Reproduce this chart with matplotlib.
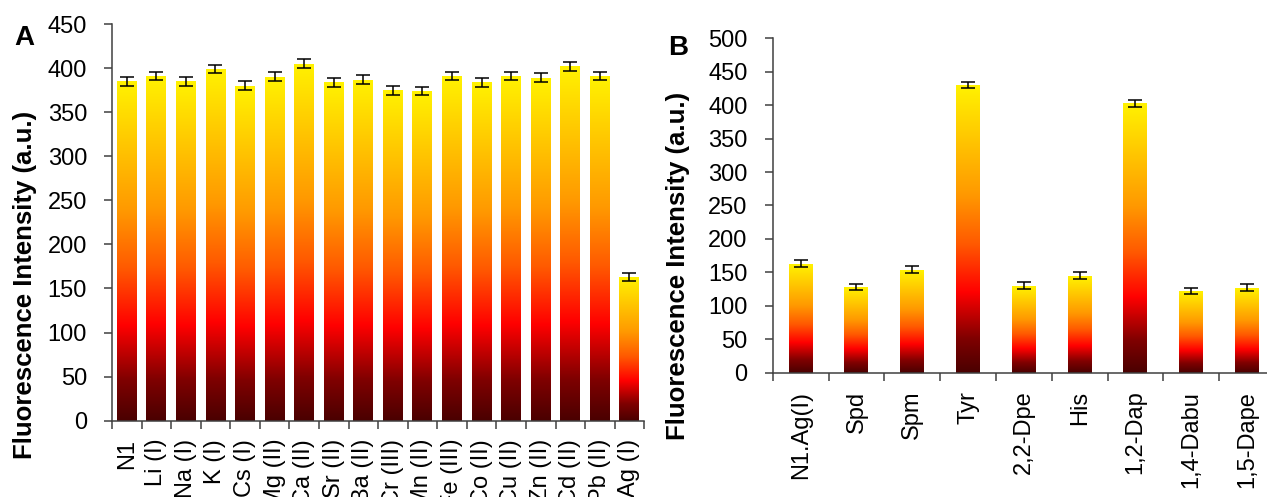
import numpy as np
import matplotlib
matplotlib.use("Agg")
import matplotlib.pyplot as plt
from matplotlib.colors import LinearSegmentedColormap

plt.rcParams['font.family'] = ['Liberation Sans', 'DejaVu Sans']

# panel A: metal ions
ions = ['N1', 'Li (I)', 'Na (I)', 'K (I)', 'Cs (I)', 'Mg (II)', 'Ca (II)',
        'Sr (II)', 'Ba (II)', 'Cr (III)', 'Mn (II)', 'Fe (III)', 'Co (II)',
        'Cu (II)', 'Zn (II)', 'Cd (II)', 'Pb (II)', 'Ag (I)']
ion_vals = [385, 391, 385, 399, 380, 390, 405, 384, 387, 375, 374, 391,
            384, 391, 389, 402, 391, 163]
ion_err = [5, 5, 5, 5, 5, 5, 5, 5, 5, 5, 5, 5, 5, 5, 5, 5, 5, 5]

# panel B: amines / amino acids
amines = ['N1.Ag(I)', 'Spd', 'Spm', 'Tyr', '2,2-Dpe', 'His', '1,2-Dap',
          '1,4-Dabu', '1,5-Dape']
amine_vals = [163, 128, 154, 430, 130, 145, 403, 122, 127]
amine_err = [5, 5, 5, 5, 5, 5, 5, 5, 5]

fire = LinearSegmentedColormap.from_list(
    'fire', [(0.0, '#4a0000'), (0.12, '#800000'), (0.28, '#ff0000'),
             (0.45, '#ff5a00'), (0.62, '#ff9900'), (1.0, '#fff200')])
grad = np.linspace(0, 1, 256).reshape(-1, 1)

AXC = '#404040'


def gradient_bars(ax, labels, vals, err, width, ymax, step):
    x = np.arange(len(labels))
    bars = ax.bar(x, vals, width=width, color='none', edgecolor='none', zorder=2)
    for b in bars:
        bx, by = b.get_x(), b.get_y()
        im = ax.imshow(grad, extent=[bx, bx + b.get_width(), by, by + b.get_height()],
                       origin='lower', aspect='auto', cmap=fire, zorder=2)
        im.set_clip_path(b)
    ax.errorbar(x, vals, yerr=err, fmt='none', ecolor='black', elinewidth=1.1,
                capsize=5, capthick=1.1, zorder=3)
    ax.set_xlim(-0.5, len(labels) - 0.5)
    ax.set_ylim(0, ymax)
    ax.set_yticks(np.arange(0, ymax + 1, step))
    ax.set_xticks(x)
    ax.set_xticklabels(labels, rotation=90)
    ax.set_xticks(np.arange(-0.5, len(labels), 1.0), minor=True)
    ax.tick_params(axis='x', which='major', length=0, pad=13, labelsize=17)
    ax.tick_params(axis='x', which='minor', length=6, width=1.1, color=AXC,
                   direction='out')
    ax.tick_params(axis='y', length=6, width=1.1, color=AXC, pad=12, labelsize=17)
    for s in ['top', 'right']:
        ax.spines[s].set_visible(False)
    for s in ['left', 'bottom']:
        ax.spines[s].set_color(AXC)
        ax.spines[s].set_linewidth(1.1)
        ax.spines[s].set_clip_on(False)


fig = plt.figure(figsize=(12.67, 4.97), dpi=100)
axA = fig.add_axes([0.0884, 0.1535, 0.4201, 0.7982])
axB = fig.add_axes([0.6099, 0.2503, 0.3964, 0.6726])

gradient_bars(axA, ions, ion_vals, ion_err, 0.676, 450, 50)
gradient_bars(axB, amines, amine_vals, amine_err, 0.43, 500, 50)

fig.text(25 / 1267, 1 - 285 / 497, 'Fluorescence Intensity (a.u.)', rotation=90,
         ha='center', va='center', fontsize=18.5, fontweight='bold')
fig.text(678 / 1267, 1 - 266 / 497, 'Fluorescence Intensity (a.u.)', rotation=90,
         ha='center', va='center', fontsize=18.5, fontweight='bold')
fig.text(24 / 1267, 1 - 38 / 497, 'A', ha='center', va='center',
         fontsize=20, fontweight='bold')
fig.text(678 / 1267, 1 - 48 / 497, 'B', ha='center', va='center',
         fontsize=20, fontweight='bold')

fig.savefig('out.png', dpi=100)
